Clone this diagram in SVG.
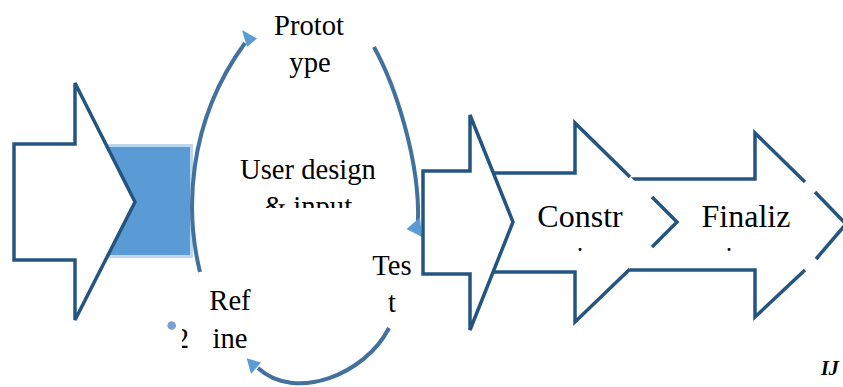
<svg xmlns="http://www.w3.org/2000/svg" width="843" height="387" viewBox="0 0 843 387">
  <style>
    .shape { fill: #ffffff; stroke: #245580; stroke-width: 3.5; stroke-linejoin: miter; }
    .edge { fill: none; stroke: #245580; stroke-width: 3.5; stroke-linejoin: miter; }
    .fillonly { fill: #ffffff; stroke: none; }
    .arc { fill: none; stroke: #41719C; stroke-width: 4; }
    .head { fill: #5B9BD5; stroke: none; }
    .lbl { font-family: "Liberation Serif", "Times New Roman", serif; font-size: 28.6px; fill: #000000; text-anchor: middle; }
    .big { font-family: "Liberation Serif", "Times New Roman", serif; font-size: 32px; fill: #000000; text-anchor: middle; }
    .dot { font-family: "Liberation Serif", "Times New Roman", serif; font-size: 18px; font-weight: bold; fill: #000000; text-anchor: middle; }
  </style>
  <defs>
    <clipPath id="clip-input"><rect x="200" y="180" width="220" height="28"/></clipPath>
    <clipPath id="clip-two"><rect x="182" y="320" width="18" height="40"/></clipPath>
  </defs>
  <rect width="843" height="387" fill="#ffffff"/>

  <!-- entry arrow with the shaded band behind it -->
  <g id="start">
    <rect x="80" y="145.5" width="111.5" height="111" fill="#5B9BD5" stroke="#BDD7EE" stroke-width="3"/>
    <polygon class="shape" points="14,144 75,144 75,83 135,202 75,320 75,260 14,260"/>
  </g>

  <!-- cycle arcs -->
  <g id="connectors">
    <path class="arc" d="M200,272 C186,215 185,125 245,43"/>
    <polygon class="head" points="242,30 257,38.5 247,47"/>
    <path class="arc" d="M374,47 C395,85 420,160 418,222"/>
    <polygon class="head" points="406.5,229 420,217.5 422,237"/>
    <path class="arc" d="M389,328 C365,375 295,402 258,368"/>
    <polygon class="head" points="246.7,358.3 261,362.5 251,374"/>
  </g>

  <g id="prototype">
    <text class="lbl" x="309" y="35">Protot</text>
    <text class="lbl" x="310" y="72">ype</text>
  </g>

  <g id="user-design">
    <text class="lbl" x="308" y="179">User design</text>
    <text class="lbl" x="308" y="216" clip-path="url(#clip-input)">&amp; input</text>
  </g>

  <g id="test">
    <text class="lbl" x="392" y="275">Tes</text>
    <text class="lbl" x="392" y="312">t</text>
  </g>

  <g id="refine">
    <circle cx="171.7" cy="325.5" r="4.3" fill="#7A9FD3"/>
    <text class="lbl" x="182" y="348" clip-path="url(#clip-two)">2</text>
    <text class="lbl" x="230" y="310">Ref</text>
    <text class="lbl" x="230" y="348">ine</text>
  </g>

  <!-- finalization chevron (drawn first, lowest) -->
  <g id="finalization">
    <polygon class="fillonly" points="630,179 755,179 755,133 846,224 755,317 755,270 630,270"/>
    <path class="edge" d="M630,179 H755 V133 L805,182 M815,192 L846,224 L816,259 M805,270 L755,317 V270 H630"/>
    <text class="big" x="746" y="226.7">Finaliz</text>
    <text class="dot" x="729" y="250.5">.</text>
  </g>

  <!-- construction chevron -->
  <g id="construction">
    <polygon class="fillonly" points="485,173 575,173 575,123 677,222 575,322 575,272 485,272"/>
    <path class="edge" d="M485,173 H575 V123 L630,177 M652,197 L677,222 L652,247 M630,269 L575,322 V272 H485"/>
    <text class="big" x="580" y="226.7">Constr</text>
    <text class="dot" x="580" y="250.5">.</text>
  </g>

  <!-- testing chevron (front) -->
  <g id="stage-arrow">
    <polygon class="shape" points="423,171 470,171 470,115 513,222 470,330 470,274 423,274"/>
  </g>

  <g id="footer">
    <text x="821" y="375" font-family="'Liberation Serif', 'Times New Roman', serif" font-size="20" font-weight="bold" font-style="italic" fill="#000000">IJ</text>
  </g>
</svg>
